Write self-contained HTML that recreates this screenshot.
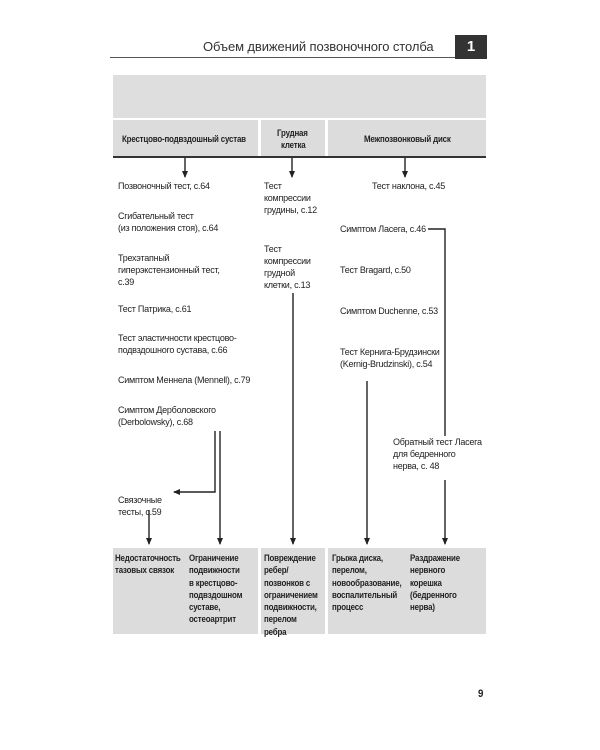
<!DOCTYPE html>
<html><head><meta charset="utf-8"><style>
body{margin:0;width:600px;height:750px;background:#fff;position:relative;overflow:hidden;font-family:"Liberation Sans","DejaVu Sans",sans-serif;}
.a{position:absolute;}
.t{position:absolute;font-size:9px;line-height:12px;color:#222;letter-spacing:-0.25px;white-space:nowrap;}
.b{position:absolute;font-size:9px;line-height:12.3px;font-weight:bold;color:#222;letter-spacing:-0.2px;white-space:nowrap;transform:scaleX(0.88);transform-origin:0 0;}
.g{position:absolute;background:#dcdcdc;}
</style></head><body>
<div class="t" style="left:203px;top:38px;font-size:13px;line-height:18px;color:#333;letter-spacing:-0.1px">Объем движений позвоночного столба</div>
<div class="a" style="left:455px;top:35px;width:32px;height:24px;background:#333;color:#fff;font-weight:bold;font-size:15px;text-align:center;line-height:24px">1</div>
<div class="a" style="left:110px;top:57px;width:345px;height:1px;background:#555"></div>

<div class="g" style="left:113px;top:75px;width:373px;height:43px;background:#dedede"></div>
<div class="g" style="left:113px;top:120px;width:145px;height:37px"></div>
<div class="g" style="left:261px;top:120px;width:64px;height:37px"></div>
<div class="g" style="left:328px;top:120px;width:158px;height:37px"></div>
<div class="b" style="left:122px;top:133px">Крестцово-подвздошный сустав</div>
<div class="b" style="left:277px;top:127px">Грудная<br>&nbsp;&nbsp;клетка</div>
<div class="b" style="left:364px;top:133px">Межпозвонковый диск</div>
<div class="a" style="left:113px;top:156px;width:373px;height:2px;background:#333"></div>

<div class="t" style="left:118px;top:180px">Позвоночный тест, с.64</div>
<div class="t" style="left:118px;top:210px">Сгибательный тест<br>(из положения стоя), с.64</div>
<div class="t" style="left:118px;top:252px">Трехэтапный<br>гиперэкстензионный тест,<br>с.39</div>
<div class="t" style="left:118px;top:303px">Тест Патрика, с.61</div>
<div class="t" style="left:118px;top:332px">Тест эластичности крестцово-<br>подвздошного сустава, с.66</div>
<div class="t" style="left:118px;top:374px">Симптом Меннела (Mennell), с.79</div>
<div class="t" style="left:118px;top:404px">Симптом Дерболовского<br>(Derbolowsky), с.68</div>
<div class="t" style="left:118px;top:494px">Связочные<br>тесты, с.59</div>

<div class="t" style="left:264px;top:180px">Тест<br>компрессии<br>грудины, с.12</div>
<div class="t" style="left:264px;top:243px">Тест<br>компрессии<br>грудной<br>клетки, с.13</div>

<div class="t" style="left:372px;top:180px">Тест наклона, с.45</div>
<div class="t" style="left:340px;top:223px">Симптом Ласега, с.46</div>
<div class="t" style="left:340px;top:264px">Тест Bragard, с.50</div>
<div class="t" style="left:340px;top:305px">Симптом Duchenne, с.53</div>
<div class="t" style="left:340px;top:346px">Тест Кернига-Брудзински<br>(Kernig-Brudzinski), с.54</div>
<div class="t" style="left:393px;top:436px">Обратный тест Ласега<br>для бедренного<br>нерва, с. 48</div>

<svg class="a" style="left:0;top:0" width="600" height="750">
<defs><marker id="m" markerWidth="8" markerHeight="8" refX="6" refY="3" orient="auto" markerUnits="userSpaceOnUse"><path d="M0,0 L7,3 L0,6 z" fill="#222"/></marker></defs>
<g stroke="#222" stroke-width="1.4" fill="none">
<line x1="185" y1="158" x2="185" y2="177" marker-end="url(#m)"/>
<line x1="292" y1="158" x2="292" y2="177" marker-end="url(#m)"/>
<line x1="405" y1="158" x2="405" y2="177" marker-end="url(#m)"/>
<polyline points="428,229 445,229 445,436"/>
<line x1="445" y1="480" x2="445" y2="544" marker-end="url(#m)"/>
<polyline points="215,431 215,492 174,492" marker-end="url(#m)"/>
<line x1="220" y1="431" x2="220" y2="544" marker-end="url(#m)"/>
<line x1="149" y1="510" x2="149" y2="544" marker-end="url(#m)"/>
<line x1="293" y1="293" x2="293" y2="544" marker-end="url(#m)"/>
<line x1="367" y1="381" x2="367" y2="544" marker-end="url(#m)"/>
</g></svg>

<div class="g" style="left:113px;top:548px;width:145px;height:86px"></div>
<div class="g" style="left:261px;top:548px;width:64px;height:86px"></div>
<div class="g" style="left:328px;top:548px;width:158px;height:86px"></div>
<div class="b" style="left:115px;top:552px">Недостаточность<br>тазовых связок</div>
<div class="b" style="left:189px;top:552px">Ограничение<br>подвижности<br>в крестцово-<br>подвздошном<br>суставе,<br>остеоартрит</div>
<div class="b" style="left:264px;top:552px">Повреждение<br>ребер/<br>позвонков с<br>ограничением<br>подвижности,<br>перелом<br>ребра</div>
<div class="b" style="left:332px;top:552px">Грыжа диска,<br>перелом,<br>новообразование,<br>воспалительный<br>процесс</div>
<div class="b" style="left:410px;top:552px">Раздражение<br>нервного<br>корешка<br>(бедренного<br>нерва)</div>

<div class="b" style="left:478px;top:688px;font-size:11px">9</div>
</body></html>
